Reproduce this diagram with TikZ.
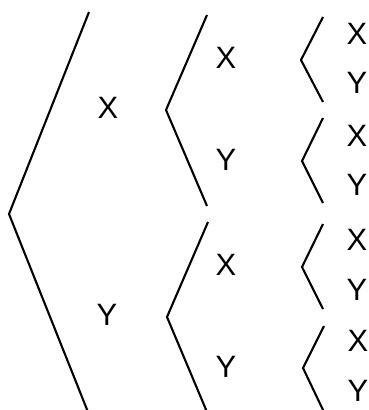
\documentclass[tikz,border=0pt]{standalone}
\usepackage{fontspec}
\setmainfont{Liberation Sans}
\begin{document}
\begin{tikzpicture}[x=1bp,y=-1bp,
  br/.style={line width=2.1bp, line join=miter},
  lab/.style={font=\fontsize{31}{33}\selectfont, inner sep=0pt}]
\useasboundingbox (0,0) rectangle (369,410);
% level 1
\draw[br] (89,12) -- (9,214) -- (88,412);
\node[lab] (a1) at (108,108) {X};
\node[lab] (a2) at (107,315) {Y};
% level 2
\draw[br] (207,15) -- (166,110) -- (207,206);
\draw[br] (208,222) -- (167,317) -- (207,412);
\node[lab] (b1) at (226,58) {X};
\node[lab] (b2) at (226,160) {Y};
\node[lab] (b3) at (226,265) {X};
\node[lab] (b4) at (226,367) {Y};
% level 3
\draw[br] (323,17) -- (301,60) -- (323,102);
\draw[br] (323,118) -- (302,161) -- (323,203);
\draw[br] (323,224) -- (302,267) -- (323,309);
\draw[br] (324,326) -- (303,368) -- (324,412);
\node[lab] (c1) at (357,34) {X};
\node[lab] (c2) at (357,83) {Y};
\node[lab] (c3) at (357,136) {X};
\node[lab] (c4) at (357,185) {Y};
\node[lab] (c5) at (357,240) {X};
\node[lab] (c6) at (357,290) {Y};
\node[lab] (c7) at (358,341) {X};
\node[lab] (c8) at (358,391) {Y};
\end{tikzpicture}
\end{document}
